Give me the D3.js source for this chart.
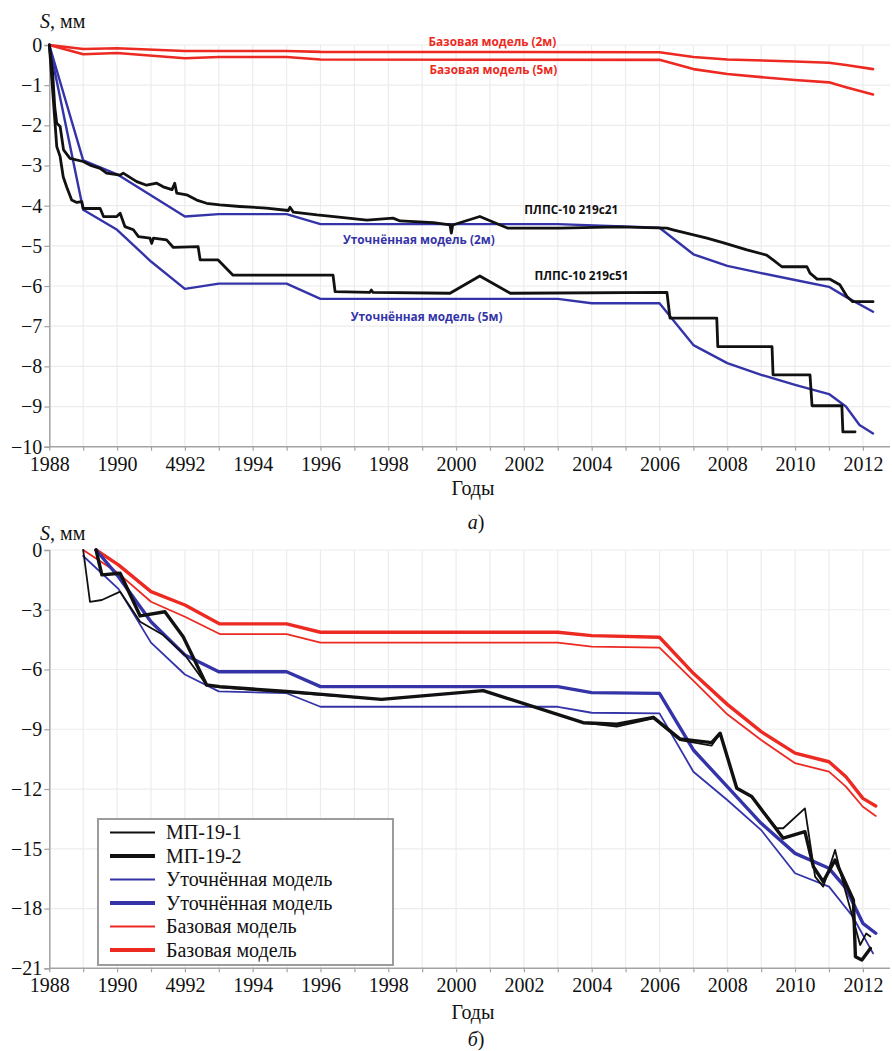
<!DOCTYPE html>
<html>
<head>
<meta charset="utf-8">
<script src="https://cdn.jsdelivr.net/npm/d3@7"></script>
<style>
  html, body { margin: 0; padding: 0; background: #fff; }
  svg { display: block; }
</style>
</head>
<body>
<svg id="fig" width="892" height="1051"></svg>
<script>
// ---- axis ticks ----
const xTickYears = [1988, 1990, 1992, 1994, 1996, 1998, 2000, 2002, 2004, 2006, 2008, 2010, 2012];
const xTickLabels = ["1988", "1990", "4992", "1994", "1996", "1998", "2000", "2002", "2004", "2006", "2008", "2010", "2012"];
const yTicksA = [0, -1, -2, -3, -4, -5, -6, -7, -8, -9, -10];
const yTicksB = [0, -3, -6, -9, -12, -15, -18, -21];

// ---- panel a: [year, S mm] ----
const baseA2 = [[1988,0],[1989,-0.1],[1990,-0.08],[1992,-0.15],[1995,-0.15],[1996,-0.17],[2006,-0.18],[2007,-0.3],[2008,-0.36],[2010,-0.41],[2011,-0.44],[2011.5,-0.5],[2012.3,-0.6]];
const baseA5 = [[1988,0],[1989,-0.23],[1990,-0.2],[1992,-0.33],[1993,-0.3],[1995,-0.3],[1996,-0.36],[2006,-0.37],[2007,-0.6],[2008,-0.72],[2009,-0.8],[2010,-0.87],[2011,-0.93],[2011.5,-1.05],[2012.3,-1.23]];
const refinedA2 = [[1988,0],[1989,-2.87],[1990,-3.22],[1992,-4.27],[1993,-4.21],[1995,-4.21],[1996,-4.46],[2003,-4.46],[2006,-4.55],[2007,-5.21],[2008,-5.5],[2009,-5.68],[2010,-5.85],[2011,-6.02],[2011.5,-6.27],[2012.3,-6.64]];
const refinedA5 = [[1988,0],[1989,-4.1],[1990,-4.6],[1991,-5.39],[1992,-6.07],[1993,-5.94],[1995,-5.94],[1996,-6.32],[2003,-6.32],[2004,-6.43],[2006,-6.43],[2007,-7.47],[2008,-7.92],[2009,-8.21],[2010,-8.46],[2011,-8.69],[2011.5,-9.0],[2011.9,-9.46],[2012.3,-9.67]];
const well21 = [[1988,0],[1988.1,-0.7],[1988.16,-1.54],[1988.22,-1.95],[1988.32,-2.03],[1988.42,-2.61],[1988.61,-2.82],[1989.0,-2.9],[1989.2,-2.99],[1989.5,-3.07],[1989.69,-3.19],[1990.09,-3.24],[1990.18,-3.19],[1990.58,-3.4],[1990.87,-3.49],[1991.17,-3.44],[1991.36,-3.53],[1991.62,-3.6],[1991.7,-3.44],[1991.76,-3.69],[1992.05,-3.73],[1992.35,-3.86],[1992.64,-3.94],[1993.03,-3.98],[1993.62,-4.02],[1994.4,-4.06],[1995.05,-4.12],[1995.1,-4.04],[1995.2,-4.16],[1995.9,-4.23],[1996.4,-4.27],[1997.37,-4.36],[1998.14,-4.31],[1998.35,-4.38],[1999.33,-4.42],[1999.82,-4.48],[1999.86,-4.68],[1999.9,-4.48],[2000.7,-4.27],[2001.53,-4.56],[2003.06,-4.56],[2004.8,-4.53],[2006.22,-4.56],[2006.4,-4.6],[2007.4,-4.81],[2007.87,-4.92],[2008.58,-5.1],[2009.16,-5.23],[2009.35,-5.35],[2009.61,-5.52],[2010.35,-5.52],[2010.44,-5.68],[2010.65,-5.83],[2011.03,-5.83],[2011.32,-5.97],[2011.53,-6.26],[2011.7,-6.39],[2012.3,-6.39]];
const well51 = [[1988,0],[1988.12,-1.37],[1988.17,-1.95],[1988.22,-2.53],[1988.32,-2.78],[1988.41,-3.28],[1988.51,-3.53],[1988.66,-3.86],[1988.81,-3.92],[1988.96,-3.9],[1989.0,-4.07],[1989.5,-4.07],[1989.6,-4.27],[1989.99,-4.27],[1990.09,-4.19],[1990.23,-4.52],[1990.48,-4.6],[1990.63,-4.77],[1990.97,-4.81],[1991.02,-4.94],[1991.07,-4.81],[1991.46,-4.85],[1991.66,-5.04],[1992.39,-5.02],[1992.45,-5.35],[1992.98,-5.35],[1993.42,-5.73],[1996.37,-5.73],[1996.43,-6.14],[1997.45,-6.16],[1997.5,-6.1],[1997.55,-6.16],[1999.82,-6.18],[2000.7,-5.75],[2001.6,-6.18],[2006.22,-6.16],[2006.31,-6.8],[2007.69,-6.8],[2007.72,-7.51],[2009.32,-7.51],[2009.35,-8.21],[2010.44,-8.21],[2010.5,-8.98],[2011.38,-8.98],[2011.41,-9.63],[2011.77,-9.63]];

// ---- panel b: [year, S mm] ----
const mp191 = [[1989,0],[1989.2,-2.6],[1989.55,-2.51],[1990.09,-2.09],[1990.68,-3.6],[1991.36,-4.27],[1992,-5.27],[1992.64,-6.78],[1993.03,-6.9],[1995,-7.15],[1997.8,-7.5],[2000.8,-7.06],[2003.75,-8.67],[2004.74,-8.87],[2005.82,-8.45],[2006.6,-9.54],[2007.54,-9.82],[2007.79,-9.2],[2008.28,-11.96],[2008.72,-12.38],[2009.46,-13.97],[2009.65,-13.97],[2010.29,-12.97],[2010.59,-16.4],[2010.83,-16.9],[2011.18,-15.06],[2011.42,-16.73],[2011.72,-18.57],[2011.92,-19.83],[2012.1,-19.25],[2012.22,-19.4]];
const mp192 = [[1989.38,0],[1989.55,-1.25],[1990.09,-1.17],[1990.68,-3.31],[1991.41,-3.1],[1991.95,-4.35],[1992.64,-6.78],[1993.03,-6.86],[1995,-7.1],[1997.8,-7.5],[2000.8,-7.06],[2003.75,-8.67],[2004.74,-8.75],[2005.82,-8.4],[2006.6,-9.48],[2007.54,-9.67],[2007.79,-9.2],[2008.28,-11.96],[2008.72,-12.38],[2009.65,-14.47],[2010.29,-14.14],[2010.54,-15.9],[2010.83,-16.65],[2011.18,-15.56],[2011.72,-17.57],[2011.78,-20.42],[2011.97,-20.58],[2012.22,-20.0]];
const refinedB1 = [[1989,-0.3],[1990.04,-1.95],[1991,-4.65],[1992,-6.25],[1993,-7.1],[1995,-7.19],[1996,-7.87],[2003,-7.87],[2004,-8.17],[2006,-8.2],[2007,-11.13],[2008,-12.55],[2009,-14.06],[2010,-16.23],[2011,-16.9],[2011.7,-18.4],[2012.3,-20.25]];
const refinedB2 = [[1989.38,0],[1990.04,-1.34],[1991,-3.6],[1992,-5.27],[1993,-6.11],[1995,-6.11],[1996,-6.86],[2003,-6.86],[2004,-7.16],[2006,-7.2],[2007,-10.04],[2008,-11.88],[2009,-13.72],[2010,-15.23],[2011,-15.98],[2011.5,-16.98],[2012,-18.74],[2012.38,-19.24]];
const baseB1 = [[1989,0],[1990.04,-1.17],[1991,-2.6],[1992,-3.35],[1993.03,-4.22],[1995,-4.22],[1996,-4.65],[2003,-4.65],[2004,-4.85],[2006,-4.9],[2007.05,-6.65],[2008,-8.25],[2009,-9.54],[2010,-10.7],[2011,-11.13],[2011.5,-11.88],[2012,-12.89],[2012.38,-13.35]];
const baseB2 = [[1989.38,0],[1990.04,-0.75],[1991,-2.09],[1992,-2.76],[1993.03,-3.71],[1995,-3.71],[1996,-4.13],[2003,-4.13],[2004,-4.3],[2006,-4.38],[2007,-6.19],[2008,-7.75],[2009,-9.12],[2010,-10.2],[2011,-10.63],[2011.5,-11.38],[2012,-12.47],[2012.38,-12.85]];

// ---- legend (panel b) ----
const legendLabels = ["МП-19-1", "МП-19-2", "Уточнённая модель", "Уточнённая модель", "Базовая модель", "Базовая модель"];

// ---- styles ----
const RED = "#ec2a22", BLUE = "#3434a8", BLACK = "#111111";
const GRID = "#ececec", AXIS = "#a3a3a3";
const SERIF = "'Liberation Serif', 'Times New Roman', serif";
const SANS = "'Open Sans', 'Noto Sans', sans-serif";

const svg = d3.select("#fig");
svg.append("rect").attr("width", 892).attr("height", 1051).attr("fill", "#fff");

const x = d3.scaleLinear().domain([1988, 2012.8]).range([49.3, 890]);
const allYears = d3.range(1988, 2013);
const fmt = v => v < 0 ? "\u2212" + Math.abs(v) : String(v);

function panel(y, yTicks, letter, yTop, titleGap, letterGap) {
  const g = svg.append("g");
  const y0 = y.range()[0], y1 = y.range()[1];
  // grid
  g.selectAll("line.vg").data(allYears.slice(1)).join("line")
    .attr("x1", d => x(d)).attr("x2", d => x(d)).attr("y1", y0).attr("y2", y1)
    .attr("stroke", GRID).attr("stroke-width", 1.2);
  g.selectAll("line.hg").data(yTicks.slice(0, -1)).join("line")
    .attr("x1", x(1988)).attr("x2", x(2012.8)).attr("y1", d => y(d)).attr("y2", d => y(d))
    .attr("stroke", GRID).attr("stroke-width", 1.2);

  // y axis
  const ya = d3.axisLeft(y).tickValues(yTicks).tickFormat(fmt).tickSize(5).tickPadding(2);
  const yg = g.append("g").attr("transform", `translate(${x(1988)},0)`).call(ya);
  yg.select(".domain").attr("stroke", AXIS).attr("stroke-width", 1.5);
  yg.selectAll(".tick line").attr("stroke", AXIS).attr("stroke-width", 1.2);
  yg.selectAll(".tick text").attr("font-family", SERIF).attr("font-size", 20).attr("fill", "#111");

  // x axis: minor ticks each year, labels every two years
  const xa = d3.axisBottom(x).tickValues(allYears).tickSize(4).tickFormat(d => {
    const i = xTickYears.indexOf(d);
    return i >= 0 ? xTickLabels[i] : "";
  }).tickPadding(6);
  const xg = g.append("g").attr("transform", `translate(0,${y1})`).call(xa);
  xg.select(".domain").attr("stroke", AXIS).attr("stroke-width", 1.5)
    .attr("d", `M${x(1988)},0H${x(2012.8)}`);
  xg.selectAll(".tick line").attr("stroke", AXIS).attr("stroke-width", 1.2);
  xg.selectAll(".tick text").attr("font-family", SERIF).attr("font-size", 20).attr("fill", "#111");

  // titles
  const st = g.append("text").attr("x", 40).attr("y", yTop).attr("font-family", SERIF)
    .attr("font-size", 20).attr("fill", "#111");
  st.append("tspan").attr("font-style", "italic").text("S");
  st.append("tspan").text(", мм");
  g.append("text").attr("x", 473).attr("y", y1 + titleGap).attr("text-anchor", "middle")
    .attr("font-family", SERIF).attr("font-size", 20).attr("fill", "#111").text("Годы");
  const lt = g.append("text").attr("x", 476).attr("y", y1 + letterGap).attr("text-anchor", "middle")
    .attr("font-family", SERIF).attr("font-size", 20).attr("fill", "#111");
  lt.append("tspan").attr("font-style", "italic").text(letter);
  lt.append("tspan").text(")");
  return g;
}

function drawLine(g, y, data, color, width) {
  const line = d3.line().x(d => x(d[0])).y(d => y(d[1]));
  g.append("path").datum(data).attr("d", line).attr("fill", "none")
    .attr("stroke", color).attr("stroke-width", width)
    .attr("stroke-linejoin", "round").attr("stroke-linecap", "round");
}

// ---- panel a ----
const yA = d3.scaleLinear().domain([0, -10]).range([45, 446.7]);
const gA = panel(yA, yTicksA, "а", 28, 48, 82);
drawLine(gA, yA, baseA2, RED, 2.6);
drawLine(gA, yA, baseA5, RED, 2.6);
drawLine(gA, yA, refinedA2, BLUE, 2.4);
drawLine(gA, yA, refinedA5, BLUE, 2.4);
drawLine(gA, yA, well21, BLACK, 2.8);
drawLine(gA, yA, well51, BLACK, 2.8);

const notes = [
  { t: "Базовая модель (2м)", yr: 2001.07, v: 0.08, c: RED },
  { t: "Базовая модель (5м)", yr: 2001.1, v: -0.62, c: RED },
  { t: "ПЛПС-10 219с21", yr: 2003.4, v: -4.11, c: BLACK },
  { t: "Уточнённая модель (2м)", yr: 1998.9, v: -4.85, c: BLUE },
  { t: "ПЛПС-10 219с51", yr: 2003.7, v: -5.75, c: BLACK },
  { t: "Уточнённая модель (5м)", yr: 1999.13, v: -6.77, c: BLUE }
];
gA.selectAll("text.note").data(notes).join("text")
  .attr("x", d => x(d.yr)).attr("y", d => yA(d.v)).attr("dy", "0.35em")
  .attr("text-anchor", "middle").attr("font-family", SANS).attr("font-weight", 700)
  .attr("font-size", 11.8).attr("fill", d => d.c).text(d => d.t);

// ---- panel b ----
const yB = d3.scaleLinear().domain([0, -21]).range([550, 968.3]);
const gB = panel(yB, yTicksB, "б", 540, 51, 78);
drawLine(gB, yB, baseB1, RED, 1.8);
drawLine(gB, yB, baseB2, RED, 3.4);
drawLine(gB, yB, refinedB1, BLUE, 1.8);
drawLine(gB, yB, refinedB2, BLUE, 3.4);
drawLine(gB, yB, mp191, BLACK, 1.8);
drawLine(gB, yB, mp192, BLACK, 3.4);

const legendStyles = [[BLACK, 2], [BLACK, 4.2], [BLUE, 2], [BLUE, 4.2], [RED, 2], [RED, 4.2]];
const lg = gB.append("g").attr("transform", "translate(98,819)");
lg.append("rect").attr("width", 295).attr("height", 146).attr("fill", "#fff")
  .attr("stroke", "#9c9c9c").attr("stroke-width", 2);
const rows = lg.selectAll("g.row").data(legendLabels).join("g")
  .attr("transform", (d, i) => `translate(0,${13.5 + i * 23.5})`);
rows.append("line").attr("x1", 12).attr("x2", 57).attr("y1", 0).attr("y2", 0)
  .attr("stroke", (d, i) => legendStyles[i][0]).attr("stroke-width", (d, i) => legendStyles[i][1]);
rows.append("text").attr("x", 68).attr("y", 0).attr("dy", "0.33em")
  .attr("font-family", SERIF).attr("font-size", 20).attr("fill", "#111").text(d => d);
</script>
</body>
</html>
